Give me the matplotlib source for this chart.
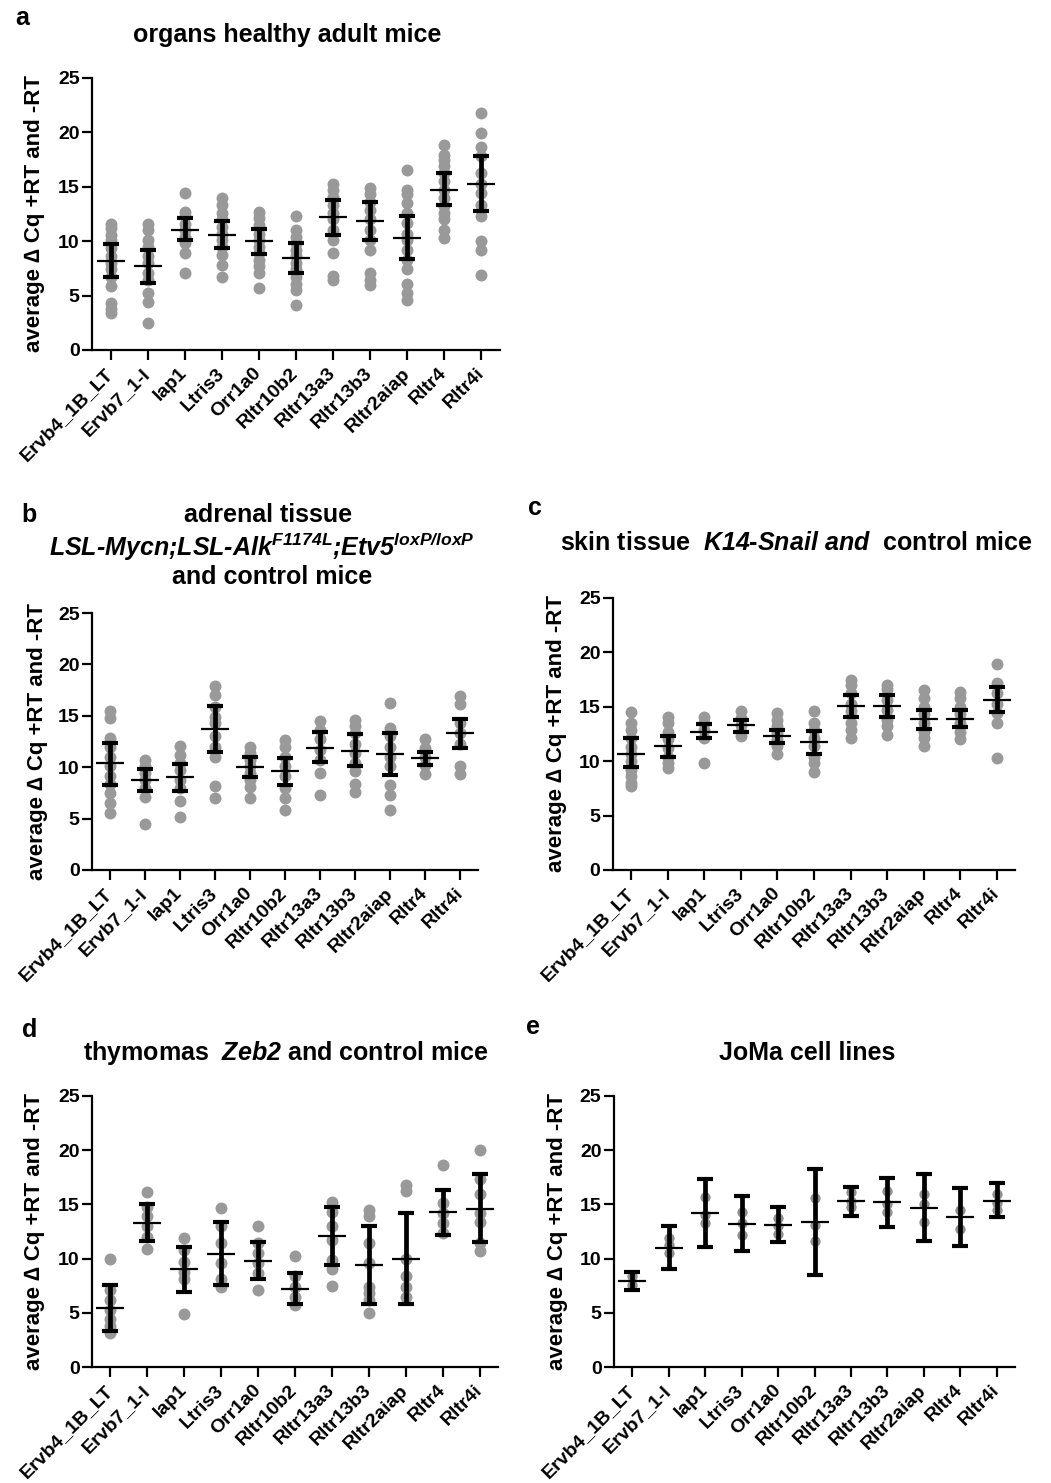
import numpy as np
import matplotlib
matplotlib.use("Agg")
import matplotlib.pyplot as plt

plt.rcParams['font.family'] = ['Liberation Sans', 'DejaVu Sans']
plt.rcParams['font.weight'] = 'bold'
plt.rcParams['mathtext.fontset'] = 'custom'
plt.rcParams['mathtext.rm'] = 'Liberation Sans:italic:bold'
plt.rcParams['mathtext.it'] = 'Liberation Sans:italic:bold'
plt.rcParams['mathtext.bf'] = 'Liberation Sans:italic:bold'

genes = ['Ervb4_1B_LT', 'Ervb7_1-I', 'Iap1', 'Ltris3', 'Orr1a0', 'Rltr10b2',
         'Rltr13a3', 'Rltr13b3', 'Rltr2aiap', 'Rltr4', 'Rltr4i']

# a: organs healthy adult mice
a_pts = [
    [11.6, 11.2, 10.6, 10.1, 9.4, 8.6, 8.0, 7.4, 6.7, 5.9, 4.3, 3.8, 3.4],
    [11.6, 11.0, 10.1, 9.5, 8.6, 8.0, 7.1, 6.4, 5.2, 4.4, 2.5],
    [14.4, 12.7, 12.3, 11.6, 11.0, 10.4, 9.8, 8.9, 7.1],
    [14.0, 13.3, 12.6, 12.0, 11.3, 10.7, 10.1, 9.5, 8.7, 7.8, 6.7],
    [12.7, 12.1, 11.5, 10.7, 10.1, 9.5, 8.9, 8.3, 7.7, 7.1, 5.7],
    [12.3, 11.0, 10.4, 9.8, 9.2, 8.6, 8.0, 7.4, 6.7, 6.1, 5.5, 4.1],
    [15.3, 14.7, 14.1, 13.3, 12.6, 12.0, 11.0, 10.1, 8.9, 6.8, 6.4],
    [14.9, 14.3, 13.6, 12.9, 12.0, 11.0, 10.1, 9.2, 7.1, 6.4, 6.0],
    [16.5, 14.7, 14.3, 13.5, 12.6, 11.7, 10.7, 10.1, 9.2, 8.3, 7.4, 6.1, 5.2, 4.6],
    [18.8, 17.9, 17.5, 16.9, 16.3, 15.5, 14.7, 14.0, 13.2, 12.6, 12.0, 11.0, 10.3],
    [21.8, 19.9, 18.7, 17.8, 16.3, 15.3, 14.4, 13.3, 12.3, 10.0, 9.2, 6.9],
]
a_mean = [8.2, 7.7, 11.0, 10.6, 10.0, 8.5, 12.2, 11.9, 10.3, 14.7, 15.3]
a_hi = [9.7, 9.2, 12.1, 11.9, 11.1, 9.8, 13.8, 13.6, 12.3, 16.3, 17.8]
a_lo = [6.7, 6.2, 10.1, 9.4, 8.8, 7.1, 10.6, 10.1, 8.4, 13.3, 12.8]

# b: adrenal tissue
b_pts = [
    [15.5, 14.8, 12.8, 12.0, 11.0, 10.1, 9.1, 8.4, 7.5, 6.5, 5.5],
    [10.7, 10.1, 9.4, 8.8, 8.0, 7.1, 4.5],
    [12.1, 11.2, 10.4, 9.7, 8.8, 8.0, 6.7, 5.2],
    [17.9, 17.0, 15.9, 14.9, 14.3, 13.0, 12.0, 11.0, 8.2, 7.0],
    [12.0, 11.4, 10.7, 10.1, 9.4, 8.8, 8.1, 7.0],
    [12.6, 12.0, 11.0, 10.1, 9.1, 8.0, 7.0, 5.8],
    [14.5, 13.6, 12.7, 11.7, 10.7, 9.4, 7.3],
    [14.6, 14.0, 13.3, 12.3, 11.4, 10.4, 9.6, 8.4, 7.6],
    [16.2, 13.8, 13.0, 12.0, 11.0, 10.1, 8.3, 7.3, 5.8],
    [12.7, 11.9, 11.0, 10.2, 9.3],
    [16.9, 16.1, 14.3, 13.3, 12.3, 10.1, 9.3],
]
b_mean = [10.4, 8.8, 9.0, 13.7, 10.0, 9.6, 11.9, 11.6, 11.3, 10.9, 13.3]
b_hi = [12.4, 9.8, 10.3, 16.0, 11.0, 10.9, 13.4, 13.2, 13.3, 11.5, 14.7]
b_lo = [8.3, 7.7, 7.7, 11.5, 9.0, 8.3, 10.5, 10.1, 9.2, 10.2, 11.9]

# c: skin tissue
c_pts = [
    [14.5, 13.5, 12.9, 12.1, 11.3, 10.7, 10.0, 9.2, 8.6, 8.0, 7.7],
    [14.1, 13.5, 12.7, 12.0, 11.2, 10.4, 9.8, 9.4],
    [14.1, 13.5, 12.9, 12.1, 9.8],
    [14.6, 14.0, 13.3, 12.7, 12.3],
    [14.4, 13.8, 13.2, 12.6, 12.0, 11.4, 10.7],
    [14.6, 13.5, 12.9, 12.1, 11.4, 10.4, 9.8, 9.0],
    [17.5, 17.0, 16.3, 15.3, 14.6, 13.5, 12.9, 12.1],
    [17.0, 16.6, 15.6, 14.7, 13.8, 13.2, 12.4],
    [16.5, 15.8, 15.0, 14.3, 13.5, 12.7, 12.1, 11.4],
    [16.4, 15.8, 15.0, 14.3, 13.5, 12.7, 12.0],
    [18.9, 17.2, 16.3, 15.3, 14.4, 13.5, 10.3],
]
c_mean = [10.7, 11.4, 12.7, 13.3, 12.3, 11.8, 15.1, 15.1, 13.9, 13.9, 15.6]
c_hi = [12.1, 12.3, 13.4, 13.8, 12.9, 12.8, 16.1, 16.1, 14.7, 14.7, 16.8]
c_lo = [9.5, 10.4, 12.1, 12.7, 11.7, 10.7, 14.1, 14.1, 13.0, 13.1, 14.5]

# d: thymomas
d_pts = [
    [10.0, 7.1, 6.2, 5.3, 4.4, 3.8, 3.1],
    [16.1, 14.8, 13.9, 13.0, 12.0, 10.9],
    [11.9, 10.8, 9.7, 8.8, 8.1, 4.9],
    [14.7, 13.0, 11.4, 9.6, 8.1, 7.4],
    [13.0, 11.4, 10.5, 9.6, 8.7, 7.1],
    [10.2, 8.4, 7.4, 6.5, 5.7],
    [15.2, 14.3, 13.0, 11.7, 9.9, 9.0, 7.5],
    [14.5, 13.9, 11.4, 9.6, 7.4, 6.8, 6.2, 5.0],
    [16.8, 16.2, 10.0, 8.4, 7.4, 6.5],
    [18.6, 15.1, 14.2, 13.3, 12.4],
    [20.0, 17.3, 16.0, 14.2, 13.4, 11.4, 10.7],
]
d_mean = [5.4, 13.3, 9.0, 10.4, 9.8, 7.2, 12.1, 9.4, 10.0, 14.3, 14.6]
d_hi = [7.6, 15.0, 11.1, 13.4, 11.5, 8.7, 14.8, 13.0, 14.2, 16.3, 17.8]
d_lo = [3.3, 11.6, 6.9, 7.6, 8.1, 5.8, 9.4, 5.8, 5.8, 12.2, 11.5]

# e: JoMa cell lines
e_pts = [
    [8.4, 7.6],
    [11.9, 11.3, 10.5],
    [15.7, 14.0, 13.3],
    [14.3, 13.3, 12.2],
    [13.7, 13.0, 12.3],
    [15.6, 13.1, 11.6],
    [16.1, 15.3, 14.8],
    [16.2, 15.0, 14.3],
    [16.0, 15.0, 13.4],
    [14.5, 12.7],
    [16.0, 15.1, 14.5],
]
e_mean = [7.95, 11.0, 14.25, 13.2, 13.1, 13.4, 15.3, 15.2, 14.7, 13.8, 15.3]
e_hi = [8.8, 13.0, 17.35, 15.8, 14.75, 18.3, 16.65, 17.4, 17.8, 16.5, 16.95]
e_lo = [7.1, 9.05, 11.05, 10.7, 11.5, 8.45, 13.95, 12.95, 11.65, 11.2, 13.8]

W, H = 1051, 1483
fig = plt.figure(figsize=(W / 100, H / 100), dpi=100)


def px_axes(x0, x1, ytop, ybot):
    return fig.add_axes([x0 / W, 1 - ybot / H, (x1 - x0) / W, (ybot - ytop) / H])


def panel(ax, pts, mean, hi, lo, dot_color='#999999', ms=8.6):
    x = np.arange(len(genes))
    for i, vals in enumerate(pts):
        ax.plot([x[i]] * len(vals), vals, 'o', color=dot_color, ms=ms, mec='none', zorder=2)
    mean = np.array(mean)
    yerr = [mean - np.array(lo), np.array(hi) - mean]
    ax.errorbar(x, mean, yerr=yerr, fmt='none', ecolor='black', elinewidth=3.4,
                capsize=5.5, capthick=3.0, zorder=3)
    ax.plot(x, mean, ls='none', marker='_', ms=20, mew=1.6, color='black', zorder=4)
    ax.set_xlim(-0.5, 10.5)
    ax.set_ylim(0, 25)
    ax.set_yticks([0, 5, 10, 15, 20, 25])
    ax.set_xticks(x)
    ax.set_xticklabels(genes, rotation=45, ha='right', va='center', rotation_mode='anchor')
    for s in ['top', 'right']:
        ax.spines[s].set_visible(False)
    for s in ['left', 'bottom']:
        ax.spines[s].set_linewidth(1.6)
    ax.tick_params(axis='both', width=1.6, length=7, labelsize=14, pad=2)
    ax.tick_params(axis='x', pad=8)
    ax.set_ylabel('average \u2206 Cq +RT and -RT', fontsize=16, fontweight='bold')
    ax.yaxis.set_label_coords(-0.115, 0.5)


ax_a = px_axes(92, 500, 78, 350)
panel(ax_a, a_pts, a_mean, a_hi, a_lo)
ax_b = px_axes(92, 478, 613, 870)
panel(ax_b, b_pts, b_mean, b_hi, b_lo)
ax_c = px_axes(613, 1015, 598, 870)
panel(ax_c, c_pts, c_mean, c_hi, c_lo)
ax_d = px_axes(92, 498, 1096, 1367)
panel(ax_d, d_pts, d_mean, d_hi, d_lo)
ax_e = px_axes(614, 1015, 1096, 1367)
panel(ax_e, e_pts, e_mean, e_hi, e_lo, dot_color='#8f8f8f', ms=7.4)


def ftext(x, y, s, **kw):
    fig.text(x / W, 1 - y / H, s, ha='center', va='center', fontweight='bold', **kw)


tfs = 18
ftext(287, 35, 'organs healthy adult mice', fontsize=tfs)
ftext(268, 515, 'adrenal tissue', fontsize=tfs)
ftext(262, 547, r'LSL-Mycn;LSL-Alk$^{F1174L}$;Etv5$^{loxP/loxP}$', fontsize=tfs, style='italic')
ftext(272, 577, 'and control mice', fontsize=tfs)
ftext(796, 543, r'skin tissue  $K14$-$Snail\ and$  control mice', fontsize=tfs)
ftext(286, 1053, r'thymomas  $Zeb2$ and control mice', fontsize=tfs)
ftext(807, 1053, 'JoMa cell lines', fontsize=tfs)

for lab, x, y in [('a', 22, 18), ('b', 29, 515), ('c', 535, 508), ('d', 30, 1030), ('e', 533, 1027)]:
    ftext(x, y, lab, fontsize=18)

fig.savefig('out.png', dpi=100)
